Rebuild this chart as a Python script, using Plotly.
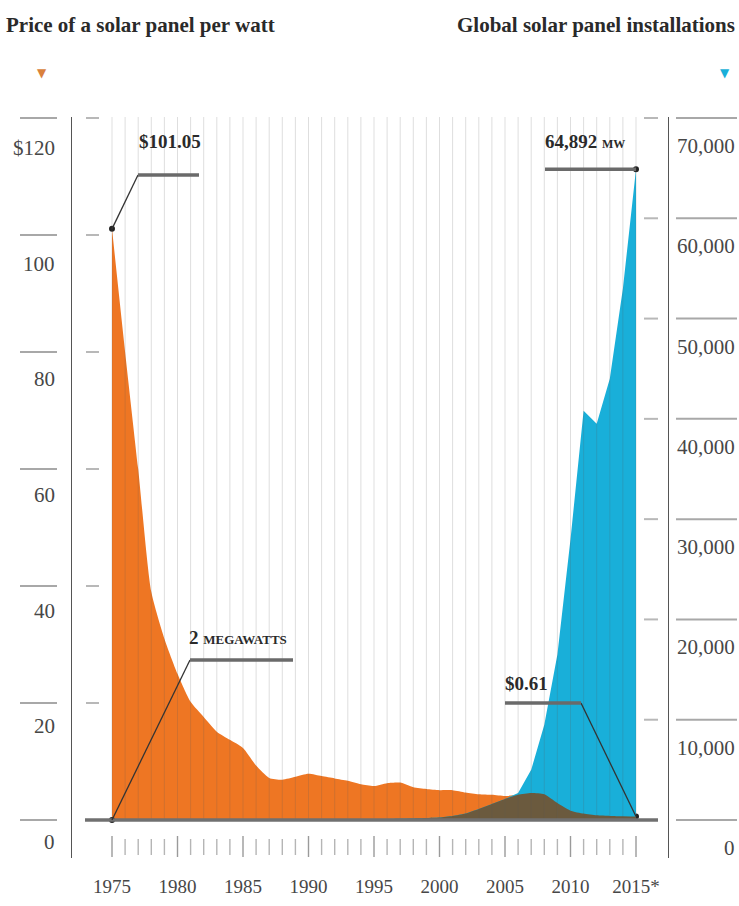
import plotly.graph_objects as go

# ---------------- data ----------------
years = list(range(1975, 2016))
price_per_watt = [101.05, 80, 60, 39, 31, 25, 20.2, 17.6, 15.1, 13.7,
                  12.3, 9.3, 7.2, 6.9, 7.4, 7.9, 7.5, 7.1, 6.7, 6.1,
                  5.8, 6.3, 6.4, 5.6, 5.3, 5.1, 5.1, 4.7, 4.4, 4.3,
                  4.1, 4.3, 4.6, 4.4, 2.9, 1.6, 1.1, 0.8, 0.7, 0.65, 0.61]
installations_mw = [2, 3, 4, 6, 8, 10, 15, 20, 25, 30,
                    35, 40, 45, 50, 55, 60, 65, 70, 75, 80,
                    90, 100, 130, 160, 200, 250, 400, 650, 1100, 1600,
                    2100, 2700, 5000, 9500, 16500, 28000, 40800, 39500, 44000, 53000, 64892]
label_years = [1975, 1980, 1985, 1990, 1995, 2000, 2005, 2010, 2015]
year_labels = ["1975", "1980", "1985", "1990", "1995", "2000", "2005", "2010", "2015*"]
left_ticks = [0, 20, 40, 60, 80, 100, 120]
left_tick_labels = ["0", "20", "40", "60", "80", "100", "$120"]
right_ticks = [0, 10000, 20000, 30000, 40000, 50000, 60000, 70000]
right_tick_labels = ["0", "10,000", "20,000", "30,000", "40,000", "50,000", "60,000", "70,000"]

# ---------------- layout geometry ----------------
W, H = 739, 906
ML, MR, MT, MB = 72, 71, 117, 48
PW = W - ML - MR
PH = H - MT - MB
PX_PER_YEAR = 13.1
X0 = 1975 - (112 - ML) / PX_PER_YEAR
X1 = X0 + PW / PX_PER_YEAR
Y0_PX = 820
PX_PER_UNIT = (820 - 118) / 120.0
Y_LO = -(MT + PH - Y0_PX) / PX_PER_UNIT
Y_HI = (Y0_PX - MT) / PX_PER_UNIT
SCALE2 = 70000 / 120.0

def xp(px):
    return X0 + (px - ML) / PX_PER_YEAR

def yp(px):
    return (Y0_PX - px) / PX_PER_UNIT

def paper_x(px):
    return (px - ML) / PW

def paper_y(px):
    return (MT + PH - px) / PH

ORANGE = "#ee7623"
BLUE = "#19afd9"
OVERLAP = "#6b5a3e"
SERIF = "Liberation Serif, Times New Roman, serif"
TXT = "#474747"

overlap_mw = [min(p * SCALE2, m) for p, m in zip(price_per_watt, installations_mw)]

fig = go.Figure()
fig.add_trace(go.Scatter(x=years, y=price_per_watt, mode="none", fill="tozeroy",
                         line=dict(shape="spline", smoothing=0.6),
                         fillcolor=ORANGE, yaxis="y", hoverinfo="skip"))
fig.add_trace(go.Scatter(x=years, y=installations_mw, mode="none", fill="tozeroy",
                         fillcolor=BLUE, yaxis="y2", hoverinfo="skip"))
fig.add_trace(go.Scatter(x=years, y=overlap_mw, mode="none", fill="tozeroy",
                         line=dict(shape="spline", smoothing=0.5),
                         fillcolor=OVERLAP, yaxis="y2", hoverinfo="skip"))
# callout dots
fig.add_trace(go.Scatter(x=[years[0], years[-1]], y=[price_per_watt[0], price_per_watt[-1]],
                         mode="markers", marker=dict(size=6, color="#222"), yaxis="y", hoverinfo="skip"))
fig.add_trace(go.Scatter(x=[years[0], years[-1]], y=[installations_mw[0], installations_mw[-1]],
                         mode="markers", marker=dict(size=6, color="#222"), yaxis="y2", hoverinfo="skip"))

shapes = []
# yearly gridlines (over fills)
for yr in years:
    shapes.append(dict(type="line", xref="x", yref="y", x0=yr, x1=yr, y0=0, y1=Y_HI,
                       line=dict(color="rgba(90,90,90,0.2)", width=1), layer="above"))
# year tick marks below baseline
for yr in years:
    major = yr in label_years
    shapes.append(dict(type="line", xref="x", yref="y", x0=yr, x1=yr,
                       y0=yp(836 if major else 839), y1=yp(857 if major else 855),
                       line=dict(color="#9a9a9a" if major else "#b5b5b5", width=1.4), layer="above"))
# baseline
shapes.append(dict(type="line", xref="paper", yref="y", x0=paper_x(85), x1=paper_x(658), y0=0, y1=0,
                   line=dict(color="#707070", width=3.5), layer="above"))
# left axis tick lines
for v in left_ticks:
    shapes.append(dict(type="line", xref="paper", yref="y", x0=paper_x(20), x1=paper_x(57), y0=v, y1=v,
                       line=dict(color="#a8a8a8", width=2)))
    if v > 0:
        shapes.append(dict(type="line", xref="paper", yref="y", x0=paper_x(86), x1=paper_x(99), y0=v, y1=v,
                           line=dict(color="#b8b8b8", width=2)))
# right axis tick lines
for v in right_ticks:
    shapes.append(dict(type="line", xref="paper", yref="y2", x0=paper_x(676), x1=paper_x(737), y0=v, y1=v,
                       line=dict(color="#a8a8a8", width=2)))
    if v > 0:
        shapes.append(dict(type="line", xref="paper", yref="y2", x0=paper_x(644), x1=paper_x(658), y0=v, y1=v,
                           line=dict(color="#b8b8b8", width=2)))

LEAD = dict(color="#333", width=1.3)
BAR = dict(color="#6a6a6a", width=3.5)
# $101.05 callout
shapes.append(dict(type="line", xref="x", yref="y", x0=years[0], y0=price_per_watt[0],
                   x1=xp(138), y1=yp(175), line=LEAD, layer="above"))
shapes.append(dict(type="line", xref="x", yref="y", x0=xp(138), y0=yp(175),
                   x1=xp(199), y1=yp(175), line=BAR, layer="above"))
# 64,892 MW callout
top_y = installations_mw[-1] / SCALE2
shapes.append(dict(type="line", xref="x", yref="y", x0=xp(545), y0=top_y,
                   x1=years[-1], y1=top_y, line=BAR, layer="above"))
# 2 MEGAWATTS callout
shapes.append(dict(type="line", xref="x", yref="y", x0=years[0], y0=installations_mw[0] / SCALE2,
                   x1=xp(190), y1=yp(660), line=LEAD, layer="above"))
shapes.append(dict(type="line", xref="x", yref="y", x0=xp(190), y0=yp(660),
                   x1=xp(293), y1=yp(660), line=BAR, layer="above"))
# $0.61 callout
shapes.append(dict(type="line", xref="x", yref="y", x0=years[-1], y0=price_per_watt[-1],
                   x1=xp(581), y1=yp(703), line=LEAD, layer="above"))
shapes.append(dict(type="line", xref="x", yref="y", x0=xp(505), y0=yp(703),
                   x1=xp(581), y1=yp(703), line=BAR, layer="above"))

annotations = []
for v, t in zip(left_ticks, left_tick_labels):
    annotations.append(dict(xref="paper", yref="y", x=paper_x(57), y=v, yshift=-(22 + 8 * v / 120),
                            xanchor="right", yanchor="middle", text=t, showarrow=False,
                            font=dict(family=SERIF, size=21, color=TXT)))
for v, t in zip(right_ticks, right_tick_labels):
    annotations.append(dict(xref="paper", yref="y2", x=paper_x(737), y=v, yshift=-28,
                            xanchor="right", yanchor="middle", text=t, showarrow=False,
                            font=dict(family=SERIF, size=21, color=TXT)))
# titles
annotations.append(dict(xref="paper", yref="paper", x=paper_x(4), y=paper_y(25), xanchor="left",
                        yanchor="middle", text="<b>Price of a solar panel per watt</b>", showarrow=False,
                        font=dict(family=SERIF, size=21, color="#2a2a2a")))
annotations.append(dict(xref="paper", yref="paper", x=paper_x(737), y=paper_y(25), xanchor="right",
                        yanchor="middle", text="<b>Global solar panel installations</b>", showarrow=False,
                        font=dict(family=SERIF, size=21, color="#2a2a2a")))
annotations.append(dict(xref="paper", yref="paper", x=paper_x(42), y=paper_y(73), xanchor="center",
                        yanchor="middle", text="▼", showarrow=False,
                        font=dict(family="DejaVu Sans", size=12, color="#d9813d")))
annotations.append(dict(xref="paper", yref="paper", x=paper_x(725), y=paper_y(73), xanchor="center",
                        yanchor="middle", text="▼", showarrow=False,
                        font=dict(family="DejaVu Sans", size=12, color=BLUE)))
# callout texts
CALL = dict(family=SERIF, size=19, color="#2a2a2a")
annotations.append(dict(xref="x", yref="y", x=xp(137), y=yp(141), xanchor="left", yanchor="middle",
                        text="<b>$101.05</b>", showarrow=False, font=CALL))
annotations.append(dict(xref="x", yref="y", x=xp(543), y=yp(141), xanchor="left", yanchor="middle",
                        text="<b>64,892 <span style='font-size:12px'>MW</span></b>", showarrow=False, font=CALL))
annotations.append(dict(xref="x", yref="y", x=xp(187), y=yp(637), xanchor="left", yanchor="middle",
                        text="<b>2 <span style='font-size:13px'>MEGAWATTS</span></b>", showarrow=False, font=CALL))
annotations.append(dict(xref="x", yref="y", x=xp(503), y=yp(683), xanchor="left", yanchor="middle",
                        text="<b>$0.61</b>", showarrow=False, font=CALL))

fig.update_layout(
    width=W, height=H,
    margin=dict(l=ML, r=MR, t=MT, b=MB, pad=0, autoexpand=False),
    paper_bgcolor="white", plot_bgcolor="white",
    showlegend=False, hovermode=False,
    xaxis=dict(range=[X0, X1], showgrid=False, zeroline=False, showline=False, automargin=False,
               tickmode="array", tickvals=label_years, ticktext=year_labels,
               ticks="outside", ticklen=11, tickcolor="rgba(0,0,0,0)",
               tickfont=dict(family=SERIF, size=19, color=TXT), fixedrange=True),
    yaxis=dict(range=[Y_LO, Y_HI], showgrid=False, zeroline=False, showticklabels=False, automargin=False,
               ticks="", showline=True, linecolor="#555", linewidth=1.3, fixedrange=True),
    yaxis2=dict(range=[Y_LO * SCALE2, Y_HI * SCALE2], overlaying="y", side="right", automargin=False,
                showgrid=False, zeroline=False, showticklabels=False, ticks="",
                showline=True, linecolor="#555", linewidth=1.3, fixedrange=True),
    shapes=shapes,
    annotations=annotations,
)

fig.write_html("out.html", config={"displayModeBar": False},
               post_script="document.body.style.margin='0';document.body.style.overflow='hidden';")
